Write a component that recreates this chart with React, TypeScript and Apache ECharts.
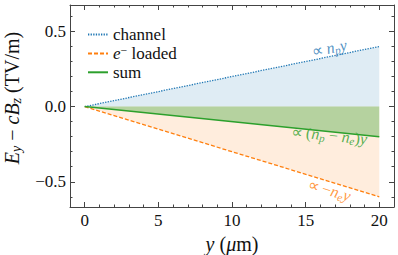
import React, { useEffect, useRef } from "react";
import * as echarts from "echarts";

const yPositions = [0, 20];
const channelField = [0, 0.4];
const loadedField = [0, -0.6];
const sumField = [0, -0.2];

const xMajorTicks = [0, 5, 10, 15, 20];
const xMinorTicks = [-1, 0, 1, 2, 3, 4, 5, 6, 7, 8, 9, 10, 11, 12, 13, 14, 15, 16, 17, 18, 19, 20, 21];
const yMajorTicks = [-0.5, 0, 0.5];
const yTickLabels = ["\u22120.5", "0.0", "0.5"];
const yMinorTicks = [-0.6, -0.5, -0.4, -0.3, -0.2, -0.1, 0, 0.1, 0.2, 0.3, 0.4, 0.5, 0.6];

const SERIF = "Liberation Serif";
const CSS_SERIF = "'Liberation Serif', serif";
const BLUE = "#1f77b4";
const ORANGE = "#ff7f0e";
const GREEN = "#2ca02c";
const AXIS = "#444";
const INK = "#111";

const X_MIN = -1;
const X_MAX = 21;
const Y_MIN = -0.668;
const Y_MAX = 0.676;

function pts(ys: number[]) {
  return yPositions.map((x, i) => [x, ys[i]]);
}

const richBase = (size: number, color: string, lh?: number) => ({
  it: { fontFamily: SERIF, fontStyle: "italic", fontSize: size, color, lineHeight: lh },
  rm: { fontFamily: SERIF, fontSize: size, color, lineHeight: lh },
  sub: { fontFamily: SERIF, fontStyle: "italic", fontSize: size * 0.7, color, padding: [size * 0.45, 0, 0, 0], lineHeight: lh ? lh * 0.7 : undefined },
  sup: { fontFamily: SERIF, fontSize: size * 0.7, color, padding: [0, 0, size * 0.4, 0], lineHeight: lh ? lh * 0.7 : undefined },
});

export default function App() {
  const ref = useRef<HTMLDivElement>(null);
  useEffect(() => {
    if (!ref.current) return;
    const el = ref.current;
    const chart = echarts.init(el, null, { renderer: "svg" });
    const xBase = (pos: string) => ({
      type: "value",
      min: X_MIN,
      max: X_MAX,
      position: pos,
      splitLine: { show: false },
    });
    const yBase = (pos: string) => ({
      type: "value",
      min: Y_MIN,
      max: Y_MAX,
      position: pos,
      splitLine: { show: false },
    });
    const annot = (x: number, y: number, text: string, color: string, rot: number) => ({
      type: "scatter",
      xAxisIndex: 0,
      yAxisIndex: 0,
      symbolSize: 0,
      silent: true,
      data: [[x, y]],
      label: {
        show: true,
        position: "inside",
        rotate: rot,
        formatter: text,
        fontFamily: SERIF,
        fontSize: 16,
        color,
        rich: richBase(16, color),
      },
      z: 10,
    });
    chart.setOption({
      animation: false,
      backgroundColor: "#fff",
      textStyle: { fontFamily: SERIF },
      grid: { left: 70, right: 4, top: 5, bottom: 48, containLabel: false, outerBoundsMode: "none" },
      legend: {
        orient: "vertical",
        left: 82,
        top: 21,
        itemWidth: 20,
        itemHeight: 12,
        itemGap: 1,
        itemStyle: { color: "rgba(0,0,0,0)", borderWidth: 0, opacity: 0 },
        data: ["channel", "loaded", "sum"],
        textStyle: { fontFamily: SERIF, fontSize: 17, lineHeight: 15, color: INK, rich: richBase(17, INK, 15) },
        formatter: (n: string) => (n === "loaded" ? "{it|e}{sup|\u2212}{rm| loaded}" : "{rm|" + n + "}"),
      },
      xAxis: [
        {
          ...xBase("bottom"),
          name: "{it|y}{rm| (}{it|\u03bc}{rm|m)}",
          nameLocation: "middle",
          nameGap: 22,
          nameTextStyle: { fontFamily: SERIF, fontSize: 20, color: INK, rich: richBase(20, INK) },
          axisLine: { show: true, onZero: false, lineStyle: { color: AXIS, width: 1 } },
          axisTick: { show: true, inside: true, length: 5, customValues: xMajorTicks, lineStyle: { color: AXIS } },
          axisLabel: {
            show: true,
            customValues: xMajorTicks,
            margin: 5,
            fontFamily: SERIF,
            fontSize: 17,
            color: INK,
            rich: richBase(17, INK),
            formatter: (v: number) => "{rm|" + v + "}",
          },
        },
        {
          ...xBase("bottom"),
          axisLine: { show: false, onZero: false },
          axisTick: { show: true, inside: true, length: 2.5, customValues: xMinorTicks, lineStyle: { color: AXIS } },
          axisLabel: { show: false },
        },
        {
          ...xBase("top"),
          axisLine: { show: true, onZero: false, lineStyle: { color: AXIS, width: 1 } },
          axisTick: { show: true, inside: true, length: 5, customValues: xMajorTicks, lineStyle: { color: AXIS } },
          axisLabel: { show: false },
        },
        {
          ...xBase("top"),
          axisLine: { show: false, onZero: false },
          axisTick: { show: true, inside: true, length: 2.5, customValues: xMinorTicks, lineStyle: { color: AXIS } },
          axisLabel: { show: false },
        },
      ],
      yAxis: [
        {
          ...yBase("left"),
          name: "{it|E}{sub|y}{rm| \u2212 }{it|cB}{sub|z}{rm| (TV/m)}",
          nameLocation: "middle",
          nameGap: 47,
          nameTextStyle: { fontFamily: SERIF, fontSize: 20, color: INK, padding: [0, 0, 0, 16], rich: richBase(20, INK) },
          axisLine: { show: true, onZero: false, lineStyle: { color: AXIS, width: 1 } },
          axisTick: { show: true, inside: true, length: 5, customValues: yMajorTicks, lineStyle: { color: AXIS } },
          axisLabel: {
            show: true,
            customValues: yMajorTicks,
            margin: 4,
            fontFamily: SERIF,
            fontSize: 17,
            color: INK,
            rich: richBase(17, INK),
            formatter: (v: number) => {
              const i = yMajorTicks.findIndex((t) => Math.abs(t - v) < 1e-9);
              return i >= 0 ? "{rm|" + yTickLabels[i] + "}" : "";
            },
          },
        },
        {
          ...yBase("left"),
          axisLine: { show: false, onZero: false },
          axisTick: { show: true, inside: true, length: 2.5, customValues: yMinorTicks, lineStyle: { color: AXIS } },
          axisLabel: { show: false },
        },
        {
          ...yBase("right"),
          axisLine: { show: true, onZero: false, lineStyle: { color: AXIS, width: 1 } },
          axisTick: { show: true, inside: true, length: 5, customValues: yMajorTicks, lineStyle: { color: AXIS } },
          axisLabel: { show: false },
        },
        {
          ...yBase("right"),
          axisLine: { show: false, onZero: false },
          axisTick: { show: true, inside: true, length: 2.5, customValues: yMinorTicks, lineStyle: { color: AXIS } },
          axisLabel: { show: false },
        },
      ],
      series: [
        {
          name: "channel",
          type: "line",
          data: pts(channelField),
          symbol: "none",
          lineStyle: { color: BLUE, width: 1.3, type: [1.3, 1.3] },
          itemStyle: { color: BLUE },
          areaStyle: { color: "rgba(31,119,180,0.2)", origin: 0 },
          z: 2,
        },
        {
          name: "loaded",
          type: "line",
          data: pts(loadedField),
          symbol: "none",
          lineStyle: { color: ORANGE, width: 1.3, type: [4, 2] },
          itemStyle: { color: ORANGE },
          areaStyle: { color: "rgba(255,127,14,0.2)", origin: 0 },
          z: 2,
        },
        {
          name: "sum",
          type: "line",
          data: pts(sumField),
          symbol: "none",
          lineStyle: { color: GREEN, width: 1.5, type: "solid" },
          itemStyle: { color: GREEN },
          areaStyle: { color: "rgba(44,160,44,0.5)", origin: 0 },
          z: 3,
        },
        annot(16.6, 0.39, "{rm|\u221d }{it|n}{sub|p}{it|y}", BLUE, 11.5),
        annot(16.6, -0.19, "{rm|\u221d (}{it|n}{sub|p}{rm| \u2212 }{it|n}{sub|e}{rm|)}{it|y}", GREEN, -5.7),
        annot(16.6, -0.555, "{rm|\u221d \u2212}{it|n}{sub|e}{it|y}", ORANGE, -16.9),
      ],
    });
    const fixFonts = () => {
      el.querySelectorAll("text, tspan").forEach((t) => {
        const s = (t as SVGElement).style;
        if (s.fontFamily !== CSS_SERIF) s.fontFamily = CSS_SERIF;
      });
    };
    fixFonts();
    chart.on("finished", fixFonts);
    const obs = new MutationObserver(() => fixFonts());
    obs.observe(el, { subtree: true, childList: true, attributes: true, attributeFilter: ["style"] });
    const raf = requestAnimationFrame(fixFonts);
    const timers = [30, 120, 400, 1000].map((ms) => setTimeout(fixFonts, ms));
    return () => {
      cancelAnimationFrame(raf);
      timers.forEach(clearTimeout);
      obs.disconnect();
      chart.dispose();
    };
  }, []);
  return <div ref={ref} style={{ position: "fixed", left: 0, top: 0, width: 398, height: 255 }} />;
}
